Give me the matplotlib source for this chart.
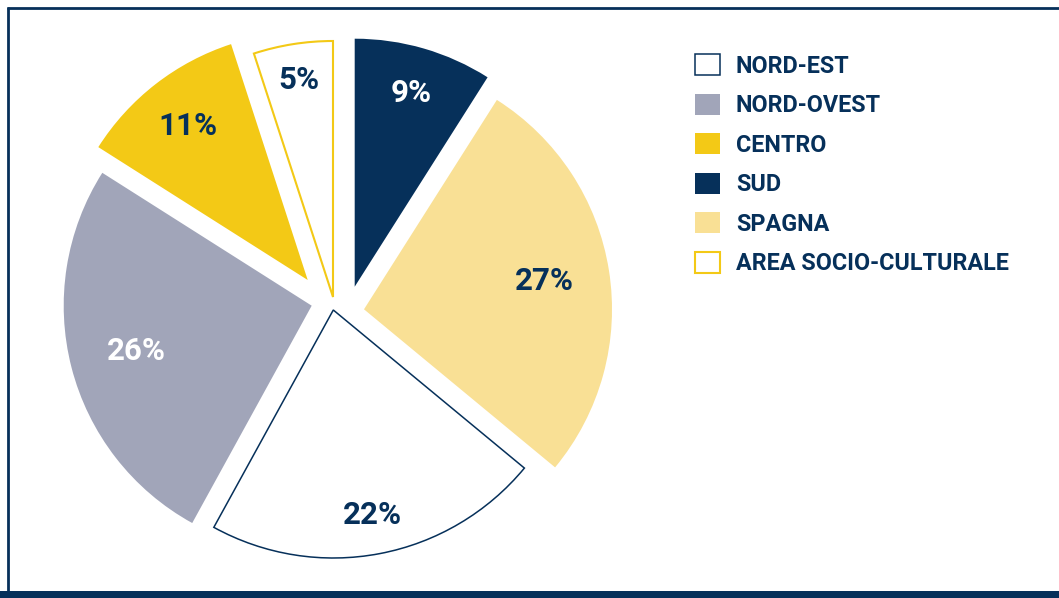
import matplotlib
matplotlib.use('Agg')
import matplotlib.pyplot as plt
import numpy as np

# slices, clockwise from 12 o'clock
labels = ['SUD', 'SPAGNA', 'NORD-EST', 'NORD-OVEST', 'CENTRO', 'AREA SOCIO-CULTURALE']
values = [9, 27, 22, 26, 11, 5]
legend_order = ['NORD-EST', 'NORD-OVEST', 'CENTRO', 'SUD', 'SPAGNA', 'AREA SOCIO-CULTURALE']

navy = '#06305a'
yellow = '#f3c916'
face = [navy, '#f9e095', 'white', '#a1a5b9', yellow, 'white']
edge = [navy, '#f9e095', navy, '#a1a5b9', yellow, yellow]
lw = [0, 0, 1.1, 0, 0, 1.5]
txt_color = ['white', navy, navy, 'white', navy, navy]
shift = [(16.7, 13.3), (26, -9.3), (-4.7, -10), (-26.3, -5.7), (-30.3, 20), (-5, 3)]   # pixel offsets of each slice
radius = [248, 248, 248, 248, 248, 256]
label_r = [202, 183, 209, 181, 195, 220]                                                 # distance of the % label from the tip

plt.rcParams['font.family'] = ['Roboto', 'DejaVu Sans']

W, H = 1059, 598
cx, cy = 338, H - 300

fig = plt.figure(figsize=(W / 100, H / 100), dpi=100)
ax = fig.add_axes([0, 0, 1, 1])

wedges, _ = ax.pie(values, colors=face, startangle=90, counterclock=False,
                   radius=248, center=(cx, cy))

for i, w in enumerate(wedges):
    w.set_edgecolor(edge[i])
    w.set_linewidth(lw[i])
    w.set_radius(radius[i])
    x0, y0 = cx + shift[i][0], cy + shift[i][1]
    w.set_center((x0, y0))
    mid = np.deg2rad((w.theta1 + w.theta2) / 2)
    ax.text(x0 + label_r[i] * np.cos(mid), y0 + label_r[i] * np.sin(mid),
            f'{values[i]}%', color=txt_color[i], fontsize=22.5, fontweight='bold',
            ha='center', va='center')

handles = [wedges[labels.index(n)] for n in legend_order]
ax.legend(handles, legend_order, loc='upper left', bbox_to_anchor=(695 / W, 1 - 54 / H),
          frameon=False, labelcolor=navy, prop={'weight': 'bold', 'size': 16.8},
          handlelength=1.07, handleheight=1.03, handletextpad=0.68, labelspacing=0.68,
          borderpad=0, borderaxespad=0)

# frame
ax.plot([7.8, 7.8], [7, H - 7], color=navy, lw=2, solid_capstyle='butt')
ax.plot([6.8, W], [H - 7.8, H - 7.8], color=navy, lw=2, solid_capstyle='butt')
ax.axhspan(0, 7.3, color=navy, lw=0)

ax.set_xlim(0, W)
ax.set_ylim(0, H)
ax.set_aspect('auto')
ax.axis('off')

fig.savefig('out.png', dpi=100, facecolor='white')
